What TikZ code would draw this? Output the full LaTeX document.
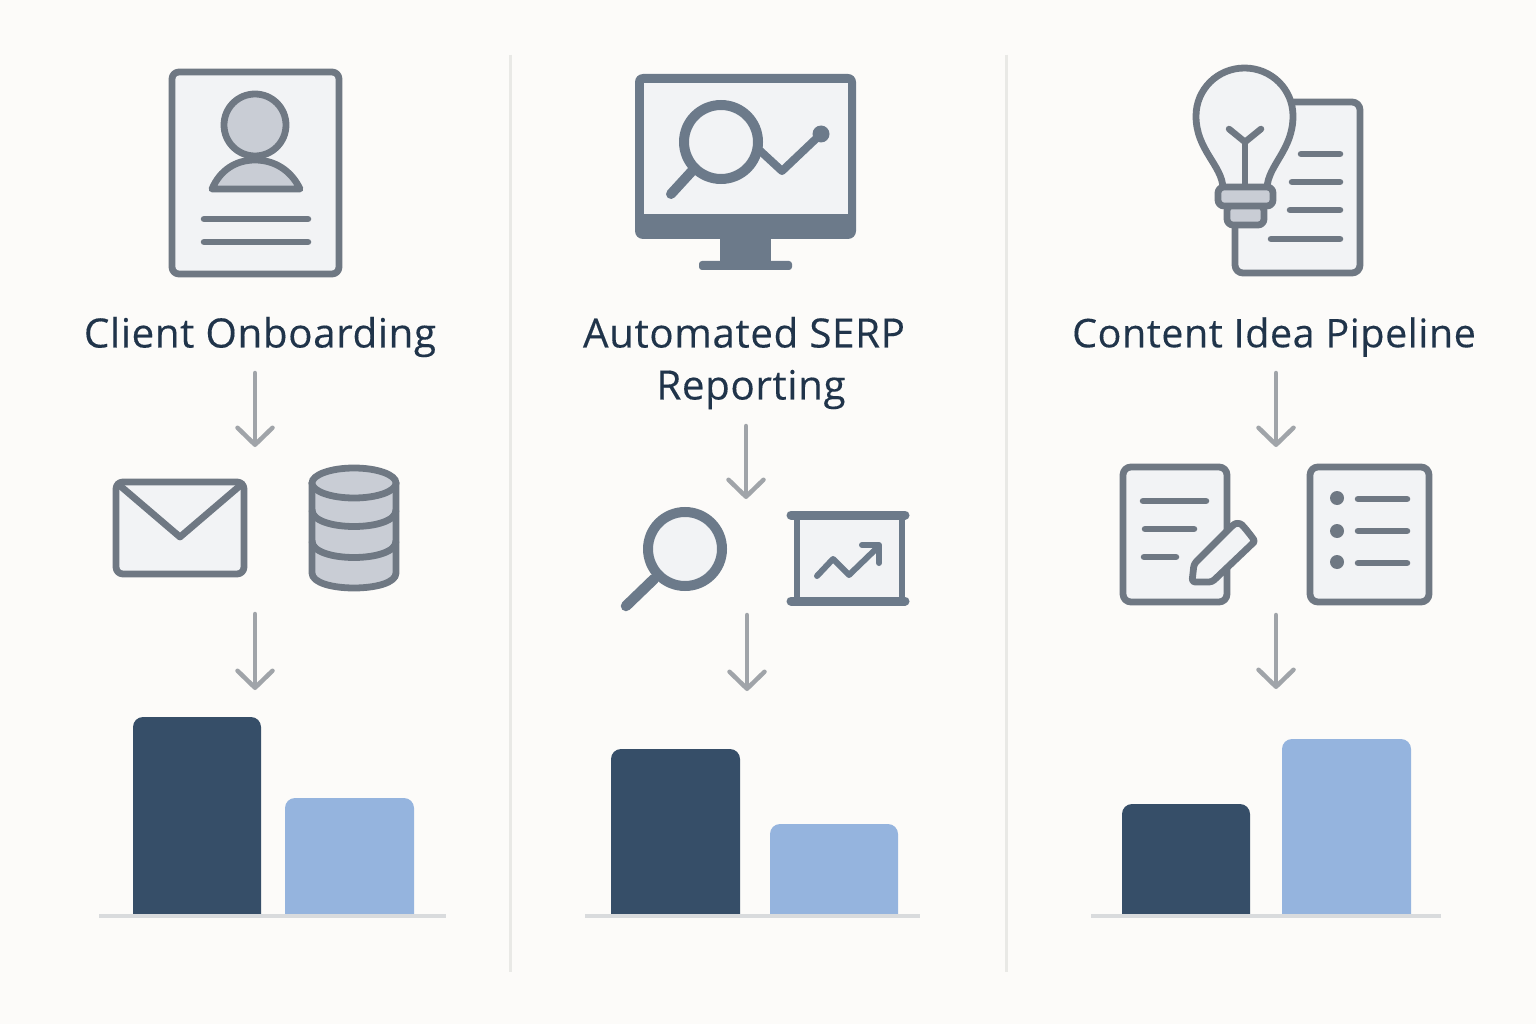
\documentclass[tikz,border=0pt]{standalone}
\usepackage{fontspec}
\setmainfont[LetterSpace=1.4,FakeBold=0.25]{Open Sans}
\usetikzlibrary{arrows.meta}
\definecolor{bgc}{HTML}{FCFBF9}
\definecolor{strokec}{HTML}{6F7883}
\definecolor{monc}{HTML}{6C7A8A}
\definecolor{paperc}{HTML}{F2F3F5}
\definecolor{greyc}{HTML}{C9CDD5}
\definecolor{arrowc}{HTML}{A0A4A9}
\definecolor{darkbar}{HTML}{364E68}
\definecolor{lightbar}{HTML}{95B4DE}
\definecolor{basec}{HTML}{D9DBDD}
\definecolor{divc}{HTML}{E9E9E6}
\definecolor{textc}{HTML}{20344A}
\tikzset{
  icon/.style={draw=strokec,line width=6.8pt,fill=paperc,rounded corners=7pt,line join=round},
  greyicon/.style={draw=strokec,line width=6.8pt,fill=greyc,line join=round},
  rule/.style={draw=strokec,line width=6.5pt,line cap=round},
  monline/.style={draw=monc,line cap=round,line join=round},
  flow/.style={draw=arrowc,line width=4.5pt,line cap=round,-{Straight Barb[length=17pt,width=35pt,line width=4.5pt,round]}},
  title/.style={text=textc,font=\fontsize{39.5}{52}\selectfont,align=center,inner sep=0pt},
  titlewide/.style={title,font=\fontsize{40.4}{52}\selectfont},
  darkb/.style={fill=darkbar,rounded corners=10pt},
  lightb/.style={fill=lightbar,rounded corners=10pt},
  baseln/.style={draw=basec,line width=3.5pt},
  divider/.style={draw=divc,line width=3pt}
}
\begin{document}
\begin{tikzpicture}[x=1pt,y=-1pt]
\useasboundingbox (0,0) rectangle (1536,1024);
\fill[bgc] (0,0) rectangle (1536,1024);
% dividers
\draw[divider] (510,55) -- (510,972);
\draw[divider] (1006,55) -- (1006,972);

% --- Column 1 ---
\path[icon] (172,72) rectangle (339,274);
\path[greyicon] (255,125) circle[radius=31];
\path[greyicon] (212,189) .. controls (220,170) and (236,160) .. (255,160) .. controls (274,160) and (291,170) .. (300,189) -- cycle;
\path[rule] (204,219) -- (308,219);
\path[rule] (204,242) -- (308,242);
\node[titlewide] (t1) at (260,337) {Client Onboarding};

\path[icon] (116,482) rectangle (244,574);
\draw[draw=strokec,line width=6.8pt,line cap=round,line join=round] (118,484) -- (180,537) -- (242,484);

\path[greyicon] (312,483) -- (312,573) .. controls (312,593) and (396,593) .. (396,573) -- (396,483) -- cycle;
\draw[draw=strokec,line width=6.8pt,fill=greyc] (354,483) circle[x radius=42,y radius=15];
\draw[draw=strokec,line width=6.8pt] (312,510) .. controls (312,532) and (396,532) .. (396,510);
\draw[draw=strokec,line width=6.8pt] (312,541) .. controls (312,563) and (396,563) .. (396,541);
\fill[darkbar,darkb] (133,915) -- (133,717) -- (261,717) -- (261,915);
\fill[lightbar,lightb] (285,915) -- (285,798) -- (414,798) -- (414,915);
\draw[baseln] (99,916) -- (446,916);

\coordinate (a1s) at (255,373); \coordinate (a1e) at (255,447);
\coordinate (a2s) at (255,614); \coordinate (a2e) at (255,690);
\draw[flow] (a1s) -- (a1e);
\draw[flow] (a2s) -- (a2e);

% --- Column 2 ---
\fill[monc,rounded corners=8pt] (635,74) rectangle (856,239);
\fill[monc] (720,235) rectangle (771,264);
\fill[monc,rounded corners=3pt] (699,261) rectangle (792,270);
\fill[paperc] (644,83) rectangle (848,214);
\draw[monline,line width=8pt] (756,147) -- (782,171) -- (821,134);
\draw[monc,line width=10pt,fill=paperc] (721,142) circle[radius=37];
\draw[monline,line width=10pt] (693,170) -- (671,194);
\fill[monc] (821,134) circle[radius=8.5];
\node[titlewide] (t2) at (744,363) {Automated SERP\\\hspace*{14pt}Reporting};

\draw[monc,line width=10pt,fill=paperc] (685,549) circle[radius=37];
\draw[monline,line width=10.5pt] (654,579) -- (626,606);

\path[fill=paperc,draw=monc,line width=6.8pt] (797,515) rectangle (902,601);
\draw[monline,line width=9pt] (791,515) -- (905,515);
\draw[monline,line width=9pt] (791,601) -- (905,601);
\draw[monline,line width=6pt] (817,576) -- (833,559) -- (849,575) -- (878,547);
\draw[monline,line width=6pt] (862,545) -- (879,545) -- (879,563);

\fill[darkbar,darkb] (611,915) -- (611,749) -- (740,749) -- (740,915);
\fill[lightbar,lightb] (770,915) -- (770,824) -- (898,824) -- (898,915);
\draw[baseln] (585,916) -- (920,916);

\coordinate (b1s) at (746,426); \coordinate (b1e) at (746,499);
\coordinate (b2s) at (747,615); \coordinate (b2e) at (747,691);
\draw[flow] (b1s) -- (b1e);
\draw[flow] (b2s) -- (b2e);

% --- Column 3 ---
\path[fill=paperc,rounded corners=8pt] (1235,102) rectangle (1360,273);
\draw[draw=strokec,line width=6.8pt,rounded corners=8pt,line join=round] (1235,225) -- (1235,273) -- (1360,273) -- (1360,102) -- (1280,102);
\path[rule] (1301,154) -- (1340,154);
\path[rule] (1292,182) -- (1340,182);
\path[rule] (1290,210) -- (1340,210);
\path[rule] (1271,239) -- (1340,239);
\path[draw=strokec,line width=6.8pt,fill=paperc,line join=round] (1223,188) .. controls (1222,165) and (1196,150) .. (1196,116) .. controls (1196,89.2) and (1217.7,68) .. (1244.5,68) .. controls (1271.3,68) and (1293,89.2) .. (1293,116) .. controls (1293,150) and (1268,165) .. (1267,188) -- cycle;
\draw[draw=strokec,line width=6.5pt,line cap=round,line join=round] (1245,188) -- (1245,142);
\draw[draw=strokec,line width=6.5pt,line cap=round,line join=round] (1229,129) -- (1245,142) -- (1261,129);
\path[greyicon,rounded corners=6pt] (1227,205) rectangle (1264,225);
\path[greyicon,rounded corners=6pt] (1218,187) rectangle (1273,206);
\node[title] (t3) at (1274,337) {Content Idea Pipeline};

\path[icon,rounded corners=8pt] (1123,467) rectangle (1227,602);
\path[rule] (1143,501) -- (1206,501);
\path[rule] (1145,529) -- (1194,529);
\path[rule] (1144,557) -- (1176,557);
\path[draw=strokec,line width=6.8pt,fill=paperc,line join=round,rounded corners=3pt] (1192,582) -- (1194,564) -- (1232,526) .. controls (1236,523) and (1240,523) .. (1244,527) -- (1252,537) .. controls (1254,540) and (1254,542) .. (1252,544) -- (1212,582) -- cycle;

\path[icon,rounded corners=8pt] (1310,467) rectangle (1429,602);
\fill[strokec] (1337,498) circle[radius=7];
\fill[strokec] (1337,531) circle[radius=7];
\fill[strokec] (1337,562) circle[radius=7];
\path[rule] (1358,499) -- (1407,499);
\path[rule] (1358,531) -- (1407,531);
\path[rule] (1358,563) -- (1407,563);

\fill[darkbar,darkb] (1122,915) -- (1122,804) -- (1250,804) -- (1250,915);
\fill[lightbar,lightb] (1282,915) -- (1282,739) -- (1411,739) -- (1411,915);
\draw[baseln] (1091,916) -- (1441,916);

\coordinate (c1s) at (1276,373); \coordinate (c1e) at (1276,447);
\coordinate (c2s) at (1276,615); \coordinate (c2e) at (1276,689);
\draw[flow] (c1s) -- (c1e);
\draw[flow] (c2s) -- (c2e);
\end{tikzpicture}
\end{document}
